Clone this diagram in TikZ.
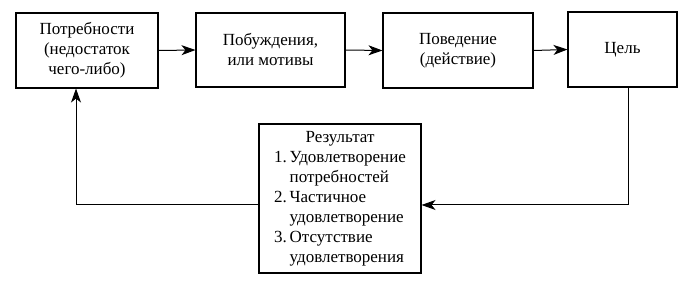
\documentclass[tikz,border=0pt]{standalone}
\usepackage{fontspec}
\setmainfont{Liberation Serif}
\usetikzlibrary{arrows.meta}
\begin{document}
\begin{tikzpicture}[x=1pt,y=-1pt,
  box/.style={draw,line width=1.1pt,inner sep=0pt,align=center,font=\fontsize{17}{20}\selectfont},
  conn/.style={line width=1pt,-{Stealth[length=14pt,width=10pt,inset=4pt]}}]
\useasboundingbox (0,0) rectangle (697,288);
\node[box,minimum width=142pt,minimum height=75pt] (need) at (87,50.5) {Потребности\\(недостаток\\чего-либо)};
\node[box,minimum width=149pt,minimum height=74pt] (motive) at (270.5,50) {Побуждения,\\или мотивы};
\node[box,minimum width=150pt,minimum height=75pt] (behav) at (458,50.5) {Поведение\\(действие)};
\node[box,minimum width=109pt,minimum height=75pt] (goal) at (622.5,49.5) {Цель};
\node[box,minimum width=162pt,minimum height=149pt] (res) at (340,198.5) {%
  \begin{tabular}{@{}l@{\,}l@{}}
  \multicolumn{2}{c}{Результат}\\
  1. & Удовлетворение\\
     & потребностей\\
  2. & Частичное\\
     & удовлетворение\\
  3. & Отсутствие\\
     & удовлетворения
  \end{tabular}};
\coordinate (c1) at (628,205);
\coordinate (c2) at (76,205);
\draw[conn] (need.east) -- (motive.west);
\draw[conn] (motive.east) -- (behav.west);
\draw[conn] (behav.east) -- (goal.west);
\draw[conn] (goal.south -| c1) -- (c1) -- (res.east |- c1);
\draw[conn] (res.west |- c2) -- (c2) -- (need.south -| c2);
\end{tikzpicture}
\end{document}
